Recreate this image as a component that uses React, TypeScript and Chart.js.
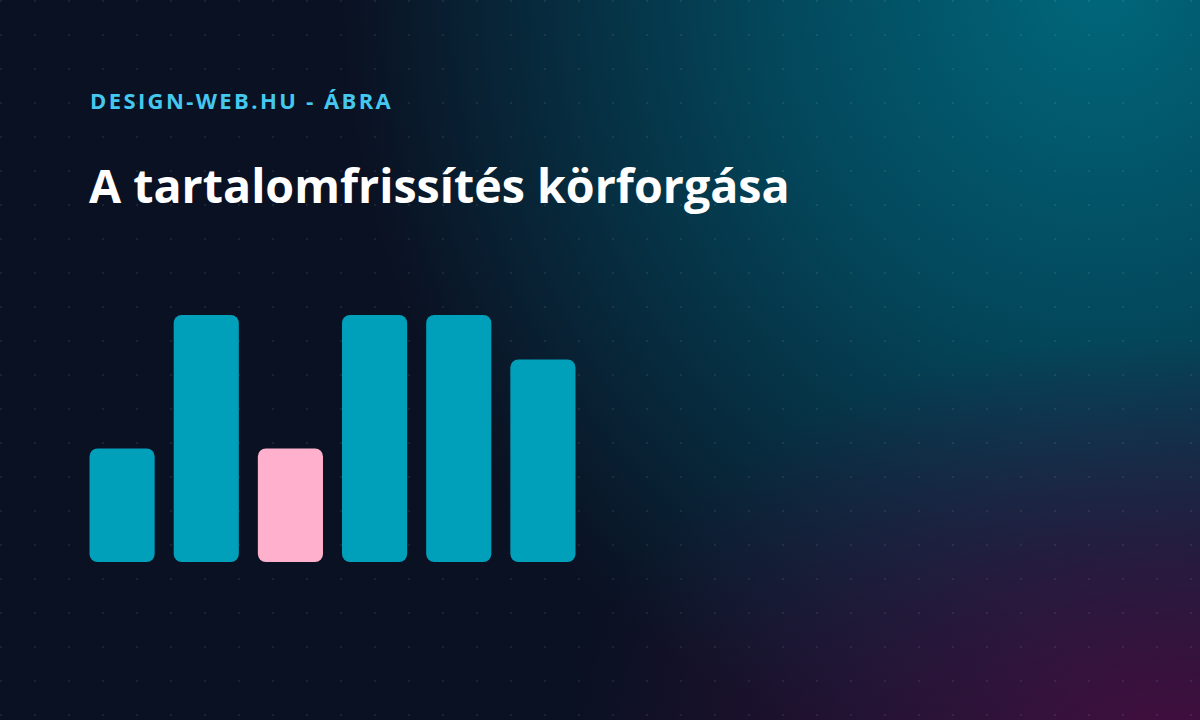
import { useEffect, useRef } from "react";
import { Chart, registerables } from "chart.js";

Chart.register(...registerables);

const STEPS = ["Elemzés", "Tervezés", "Felülvizsgálat", "Frissítés", "Publikálás", "Mérés"];
const VALUES = [46, 100, 46, 100, 100, 82];
const HIGHLIGHT = 2;

const TEAL = "#00a0bb";
const PINK = "#ffb0cd";

function Bars() {
  const canvasRef = useRef<HTMLCanvasElement>(null);
  const chartRef = useRef<Chart<"bar"> | null>(null);

  useEffect(() => {
    if (!canvasRef.current) return;
    const ctx = canvasRef.current.getContext("2d");
    if (!ctx) return;

    chartRef.current = new Chart(ctx, {
      type: "bar",
      data: {
        labels: STEPS,
        datasets: [{
          data: VALUES,
          backgroundColor: VALUES.map((_, i) => (i === HIGHLIGHT ? PINK : TEAL)),
          borderWidth: 0,
          borderRadius: 8,
          borderSkipped: false,
          barPercentage: 0.774,
          categoryPercentage: 1,
        }],
      },
      options: {
        responsive: true,
        maintainAspectRatio: false,
        animation: false,
        layout: { padding: 0 },
        scales: {
          x: { display: false },
          y: { display: false, min: 0, max: 100 },
        },
        plugins: {
          legend: { display: false },
          tooltip: { enabled: false },
        },
      },
    });

    return () => {
      if (chartRef.current) {
        chartRef.current.destroy();
        chartRef.current = null;
      }
    };
  }, []);

  return (
    <div style={{ position: "absolute", left: 80, top: 315, width: 505, height: 247 }}>
      <canvas ref={canvasRef} />
    </div>
  );
}

export default function App() {
  return (
    <div
      style={{
        position: "fixed",
        left: 0,
        top: 0,
        width: 1200,
        height: 720,
        overflow: "hidden",
        fontFamily: "'Open Sans', 'Noto Sans', sans-serif",
        background: [
          "radial-gradient(circle, rgba(255,255,255,0.07) 0.8px, rgba(255,255,255,0) 1.4px) 18px 18px / 34px 34px",
          "radial-gradient(600px 400px at 1170px 735px, rgba(68,14,64,0.95) 0%, rgba(58,16,62,0.55) 50%, rgba(50,16,60,0) 100%)",
          "radial-gradient(760px 820px at 1100px -20px, rgba(0,108,128,0.95) 0%, rgba(0,98,120,0.65) 45%, rgba(0,90,110,0) 100%)",
          "#0a1122",
        ].join(", "),
      }}
    >
      <div
        style={{
          position: "absolute",
          left: 90,
          top: 84,
          color: "#45c8ef",
          fontSize: 22,
          fontWeight: 700,
          letterSpacing: 2.4,
          lineHeight: "32px",
          whiteSpace: "nowrap",
        }}
      >
        DESIGN-WEB.HU - ÁBRA
      </div>
      <div
        style={{
          position: "absolute",
          left: 89,
          top: 150,
          color: "#ffffff",
          fontSize: 46.6,
          fontWeight: 700,
          lineHeight: "70px",
          whiteSpace: "nowrap",
        }}
      >
        A tartalomfrissítés körforgása
      </div>
      <Bars />
    </div>
  );
}
